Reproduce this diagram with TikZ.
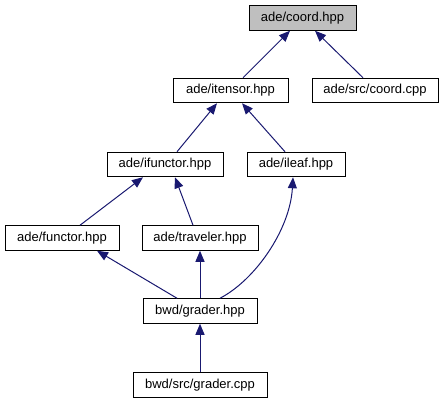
\documentclass[tikz,border=0pt]{standalone}
\usepackage{fontspec}
\setmainfont{Liberation Sans}
\usetikzlibrary{arrows.meta,calc}
\definecolor{edgeblue}{HTML}{191970}
\definecolor{hilite}{HTML}{BFBFBF}
\begin{document}
\begin{tikzpicture}[x=1pt,y=-1pt,
  filebox/.style={draw=black,line width=1pt,fill=white,inner sep=0pt,minimum height=24.5pt,
    font=\fontsize{13}{15}\selectfont},
  dep/.style={draw=edgeblue,line width=1pt,-{Triangle[length=11pt,width=9pt]}}]
\useasboundingbox (0,0) rectangle (444,403);
\node[filebox,fill=hilite,minimum width=107pt] (coord) at (302.5,18) {ade/coord.hpp};
\node[filebox,minimum width=115pt] (itensor) at (230.5,90.5) {ade/itensor.hpp};
\node[filebox,minimum width=126pt] (srccoord) at (375,90.5) {ade/src/coord.cpp};
\node[filebox,minimum width=116pt] (ifunctor) at (165,164.5) {ade/ifunctor.hpp};
\node[filebox,minimum width=98pt] (ileaf) at (296,164.5) {ade/ileaf.hpp};
\node[filebox,minimum width=114pt] (functor) at (62,238) {ade/functor.hpp};
\node[filebox,minimum width=116pt] (traveler) at (200,238) {ade/traveler.hpp};
\node[filebox,minimum width=114pt] (graderh) at (200,311) {bwd/grader.hpp};
\node[filebox,minimum width=134pt] (graderc) at (200,385) {bwd/src/grader.cpp};

\draw[dep] ([xshift=12.5pt]itensor.north) -- ([xshift=-12.5pt]coord.south);
\draw[dep] ([xshift=-12pt]srccoord.north) -- ([xshift=12.5pt]coord.south);
\draw[dep] ([xshift=12pt]ifunctor.north) -- ([xshift=-13.5pt]itensor.south);
\draw[dep] ([xshift=-11pt]ileaf.north) -- ([xshift=11.5pt]itensor.south);
\draw[dep] ([xshift=18pt]functor.north) -- ([xshift=-22pt]ifunctor.south);
\draw[dep] ([xshift=-7pt]traveler.north) -- ([xshift=10pt]ifunctor.south);
\draw[dep] ([xshift=-23pt]graderh.north) -- ([xshift=35pt]functor.south);
\draw[dep] (graderh.north) -- (traveler.south);
\draw[dep] ([xshift=20pt]graderh.north) .. controls (255,280) and (290,230) .. ([xshift=-3pt]ileaf.south);
\draw[dep] (graderc.north) -- (graderh.south);
\end{tikzpicture}
\end{document}
